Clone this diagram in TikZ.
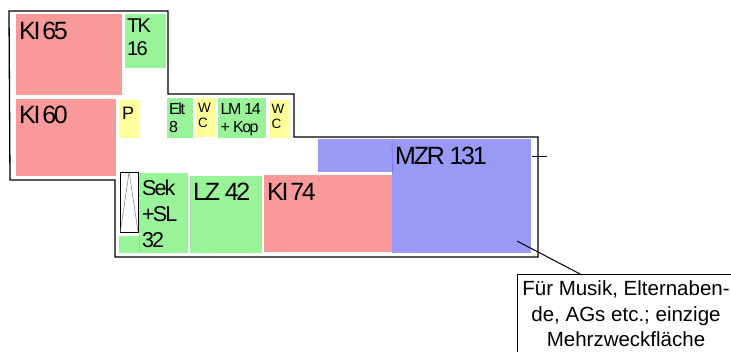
\documentclass[tikz,border=0pt]{standalone}
\usepackage{fontspec}
\setmainfont{Liberation Sans}
\newfontfamily\roomfont[LetterSpace=-9]{Liberation Sans}
\definecolor{klasse}{HTML}{F99999}
\definecolor{fach}{HTML}{99F399}
\definecolor{neben}{HTML}{FFFF99}
\definecolor{mehr}{HTML}{9999F6}
\newcommand{\kl}{KI\kern-3pt{} }
\begin{document}
\begin{tikzpicture}[x=1pt,y=-1pt,room/.style={rectangle,anchor=north west,inner sep=0},
    big/.style={anchor=base west,inner sep=0,font=\roomfont\fontsize{25}{25}\selectfont},
    mid/.style={anchor=base west,inner sep=0,align=left,font=\roomfont\fontsize{21.5}{26}\selectfont},
    small/.style={anchor=base west,inner sep=0,align=left,font=\roomfont\fontsize{16}{18}\selectfont},
    tiny/.style={anchor=base west,inner sep=0,align=left,font=\fontsize{13.5}{15.5}\selectfont},
    wall/.style={line width=1.3pt},
    note/.style={rectangle,draw,line width=1pt,align=center,inner sep=0,font=\fontsize{20.5}{25.5}\selectfont}]
    \useasboundingbox (0,0) rectangle (731,352);

    \draw[wall] (9,11) -- (168,11) -- (168,94) -- (294,94) -- (294,137) -- (538,137) -- (538,257) -- (115,257) -- (115,180) -- (10,180) -- cycle;

    \node[room,fill=klasse,minimum width=106pt,minimum height=81pt] at (16,14) (ki65) {};
    \node[room,fill=fach,minimum width=41pt,minimum height=54pt] at (125,14) (tk) {};
    \node[room,fill=klasse,minimum width=100pt,minimum height=77pt] at (16,99) (ki60) {};
    \node[room,fill=neben,minimum width=20pt,minimum height=38pt] at (119,100) (p) {};
    \node[room,fill=fach,minimum width=26pt,minimum height=40pt] at (167,98) (elt) {};
    \node[room,fill=neben,minimum width=20pt,minimum height=39pt] at (196,98) (wca) {};
    \node[room,fill=fach,minimum width=48pt,minimum height=40pt] at (218,98) (lm) {};
    \node[room,fill=neben,minimum width=20pt,minimum height=38pt] at (270,100) (wcb) {};
    \node[room,fill=mehr,minimum width=74pt,minimum height=33pt] at (318,139) (mzrflur) {};
    \node[room,fill=mehr,minimum width=139pt,minimum height=114pt] at (392,139) (mzr) {};
    \node[room,fill=klasse,minimum width=128pt,minimum height=77pt] at (264,175) (ki74) {};
    \node[room,fill=fach,minimum width=72pt,minimum height=77pt] at (190,176) (lz) {};
    \node[room,fill=fach,minimum width=49pt,minimum height=80pt] at (139,173) (sek) {};
    \node[room,fill=fach,minimum width=20pt,minimum height=17pt] at (119,236) (seksub) {};
    \node[room,draw,fill=white,thin,minimum width=17.5pt,minimum height=60.5pt] at (120.2,171.8) (lift) {};

    \draw[thin,black!60] (lift.north) -- (lift.south west) (lift.north) -- (lift.south east);
    \draw[mehr!70!blue] (mzr.north west) -- (mzrflur.south east);
    \draw[fach!70!green] (seksub.north east) -- (seksub.south east);

    \node[big] at (19,40) (ki65t) {\kl 65};
    \node[big] at (19,124) (ki60t) {\kl 60};
    \node[big] at (193,201) (lzt) {LZ 42};
    \node[big] at (267,201) (ki74t) {\kl 74};
    \node[big] at (395,165) (mzrt) {MZR 131};
    \node[small,font=\roomfont\fontsize{20}{23}\selectfont] at (127,56) (tkt) {TK\\16};
    \node[small,font=\roomfont\fontsize{18}{23}\selectfont] at (122,120) (pt) {P};
    \node[small] at (169,133) (eltt) {Elt\\8};
    \node[small] at (220.5,133) (lmt) {LM 14\\+ Kop};
    \node[tiny] at (198,128) (wcat) {W\\C};
    \node[tiny] at (271.5,129) (wcbt) {W\\C};
    \node[mid] at (142,248) (sekt) {Sek\\+SL\\32};

    \node[note,minimum width=218pt,minimum height=78pt] at (626,314) (hinweis) {Für Musik, Elternaben-\\de, AGs etc.; einzige\\Mehrzweckfläche};

    \coordinate (zeiger) at (517,241);
    \coordinate (wurzel) at (582,275);
    \coordinate (ticka) at (532,156);
    \coordinate (tickb) at (547,156);
    \draw[line width=1pt] (zeiger) -- (wurzel);
    \draw[line width=.8pt] (ticka) -- (tickb);
\end{tikzpicture}
\end{document}
